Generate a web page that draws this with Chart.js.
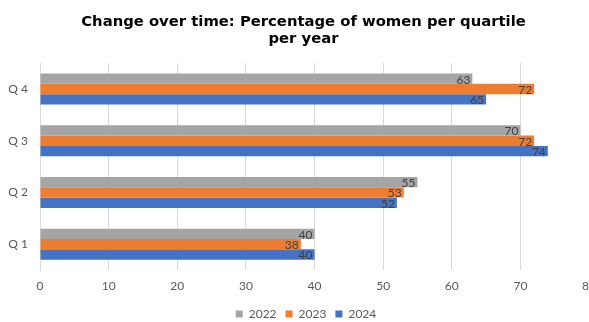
<!DOCTYPE html>
<html lang="en">
<head>
    <meta charset="UTF-8">
    <title>Change over time</title>
    <script src="https://cdn.jsdelivr.net/npm/chart.js"></script>
    <style>
        body { margin: 0; background: #fff; }
        #wrap { width: 589px; height: 322px; }
    </style>
</head>
<body>
<div id="wrap"><canvas id="chart" width="589" height="322"></canvas></div>
<script>
    // data
    const quartiles = ['Q 4', 'Q 3', 'Q 2', 'Q 1'];
    const years = ['2022', '2023', '2024'];
    const values2022 = [63, 70, 55, 40];
    const values2023 = [72, 72, 53, 38];
    const values2024 = [65, 74, 52, 40];
    const xTicks = [0, 10, 20, 30, 40, 50, 60, 70, 80];

    const colors = ['#A5A5A5', '#ED7D31', '#4472C4'];
    const series = [values2022, values2023, values2024];

    // value labels at the inside end of each bar
    const barLabels = {
        id: 'barLabels',
        afterLayout(chart) {
            // title and legend sit a bit right of the canvas centre, legend low
            chart.titleBlock.left = 18;
            chart.legend.left = 23;
            chart.legend.top = 299;
        },
        afterDatasetsDraw(chart) {
            const ctx = chart.ctx;
            ctx.save();
            ctx.font = '12px Lato';
            ctx.fillStyle = '#404040';
            ctx.textAlign = 'right';
            ctx.textBaseline = 'middle';
            chart.data.datasets.forEach((ds, i) => {
                chart.getDatasetMeta(i).data.forEach((bar, j) => {
                    ctx.fillText(ds.data[j], bar.x - 2, bar.y + 1);
                });
            });
            ctx.restore();
        }
    };

    new Chart(document.getElementById('chart'), {
        type: 'bar',
        data: {
            labels: quartiles,
            datasets: years.map((y, i) => ({
                label: y,
                data: series[i],
                backgroundColor: colors[i],
                borderWidth: 0,
                categoryPercentage: 0.6,
                barPercentage: 1.0
            }))
        },
        options: {
            indexAxis: 'y',
            responsive: false,
            animation: false,
            layout: { padding: 0 },
            plugins: {
                title: {
                    display: true,
                    text: ['Change over time: Percentage of women per quartile', 'per year'],
                    color: '#000',
                    font: { family: 'DejaVu Sans', size: 14.8, weight: 'bold', lineHeight: 1.12 },
                    padding: { top: 14, bottom: 16 }
                },
                legend: {
                    position: 'bottom',
                    labels: {
                        boxWidth: 7,
                        boxHeight: 7,
                        padding: 9,
                        color: '#595959',
                        font: { family: 'Lato', size: 12 }
                    }
                },
                tooltip: { enabled: false }
            },
            scales: {
                x: {
                    min: 0,
                    max: 80,
                    afterBuildTicks(scale) {
                        scale.ticks = xTicks.map(v => ({ value: v }));
                    },
                    afterFit(scale) {
                        scale.paddingRight = 0;
                        scale.paddingLeft = 0;
                        scale.height = 21;
                    },
                    grid: { color: '#D9D9D9', drawTicks: false },
                    border: { display: false },
                    ticks: { color: '#595959', font: { family: 'Lato', size: 12 }, padding: 9 }
                },
                y: {
                    afterFit(scale) { scale.width = 40; },
                    grid: { display: false },
                    border: { display: true, color: '#D9D9D9' },
                    ticks: { color: '#595959', font: { family: 'Lato', size: 12 }, padding: 4 }
                }
            }
        },
        plugins: [barLabels]
    });
</script>
</body>
</html>
